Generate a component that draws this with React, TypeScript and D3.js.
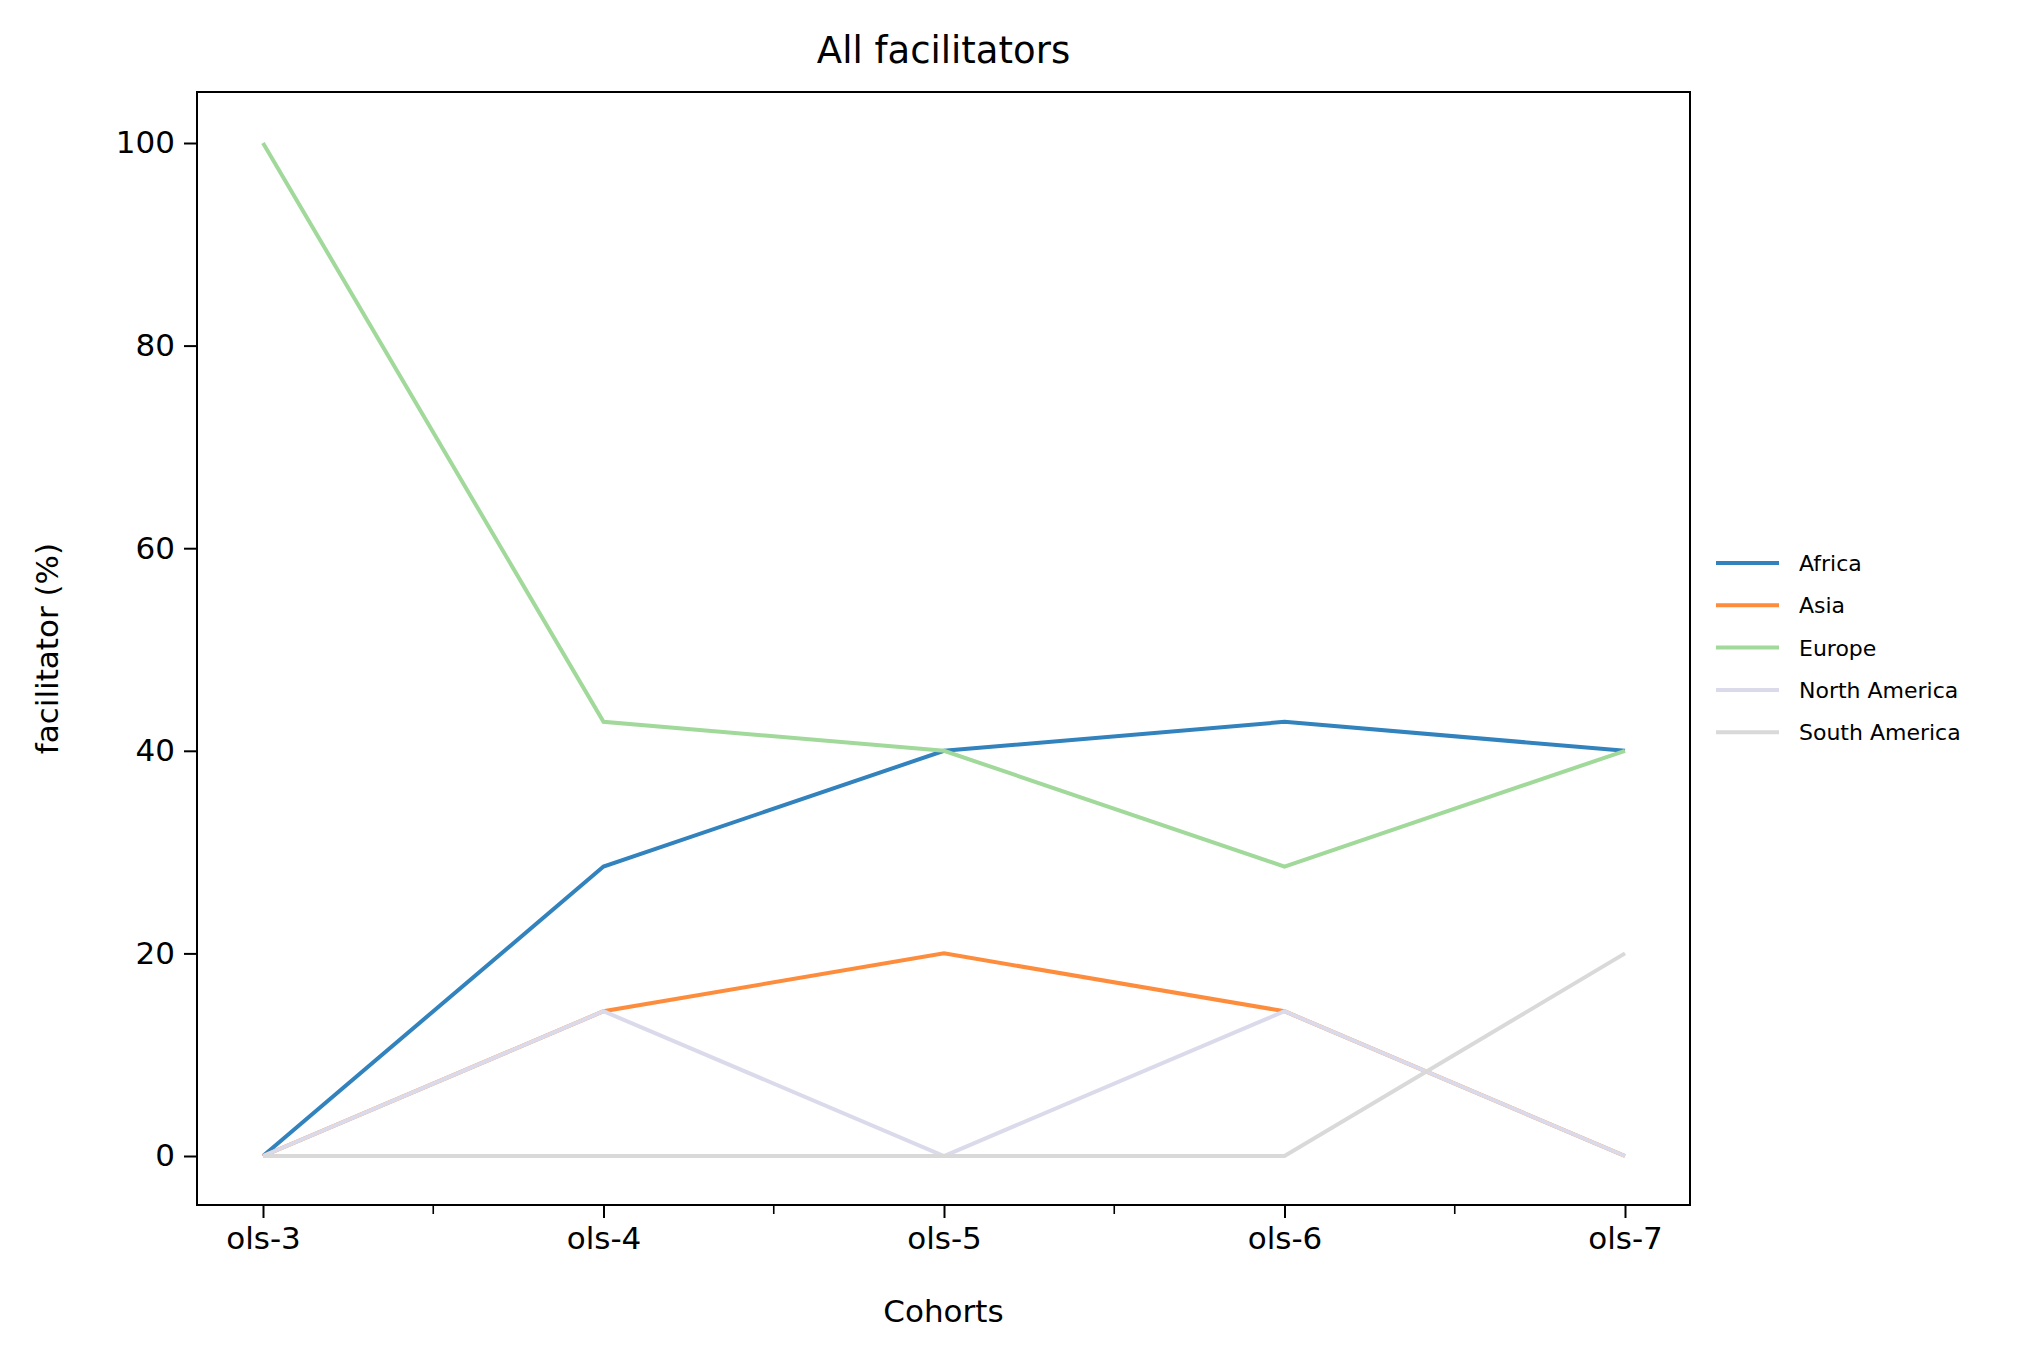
import * as d3 from 'd3';
import { useEffect, useRef } from 'react';

const cohorts = ['ols-3', 'ols-4', 'ols-5', 'ols-6', 'ols-7'];
const regions = ['Africa', 'Asia', 'Europe', 'North America', 'South America'];
const africa = [0, 28.57, 40, 42.86, 40];
const asia = [0, 14.29, 20, 14.29, 0];
const europe = [100, 42.86, 40, 28.57, 40];
const northAmerica = [0, 14.29, 0, 14.29, 0];
const southAmerica = [0, 0, 0, 0, 20];
const yTicks = [0, 20, 40, 60, 80, 100];
const colors = ['#3182bd', '#fd8d3c', '#a1d99b', '#dadaeb', '#d9d9d9'];

export default function App() {
    const svgRef = useRef<SVGSVGElement>(null);

    useEffect(() => {
        const svg = d3.select(svgRef.current);
        svg.selectAll('*').remove();
        const series = [africa, asia, europe, northAmerica, southAmerica];
        const left = 197, right = 1690, top = 92, bottom = 1205;

        const x = d3.scalePoint<string>().domain(cohorts).range([263, 1625]);
        const y = d3.scaleLinear().domain([0, 100]).range([1156, 143]);
        const font = 'DejaVu Sans, sans-serif';

        const line = d3.line<number>()
            .x((_, i) => x(cohorts[i])!)
            .y((d) => y(d));

        series.forEach((s, i) => {
            svg.append('path')
                .datum(s)
                .attr('fill', 'none')
                .attr('stroke', colors[i])
                .attr('stroke-width', 4)
                .attr('d', line);
        });

        svg.append('rect')
            .attr('x', left).attr('y', top)
            .attr('width', right - left).attr('height', bottom - top)
            .attr('fill', 'none').attr('stroke', '#000').attr('stroke-width', 2);

        // x axis
        const xAxis = svg.append('g')
            .attr('transform', `translate(0,${bottom})`)
            .call(d3.axisBottom(x).tickSize(13).tickPadding(9));
        xAxis.select('.domain').remove();
        xAxis.selectAll('line').attr('stroke-width', 2);
        xAxis.selectAll('text').attr('font-size', 31).attr('font-family', font);
        const step = x.step();
        cohorts.slice(0, -1).forEach((c) => {
            svg.append('line')
                .attr('x1', x(c)! + step / 2).attr('x2', x(c)! + step / 2)
                .attr('y1', bottom).attr('y2', bottom + 9)
                .attr('stroke', '#000').attr('stroke-width', 1.6);
        });

        // y axis
        const yAxis = svg.append('g')
            .attr('transform', `translate(${left},0)`)
            .call(d3.axisLeft(y).tickValues(yTicks).tickSize(13).tickPadding(9));
        yAxis.select('.domain').remove();
        yAxis.selectAll('line').attr('stroke-width', 2);
        yAxis.selectAll('text').attr('font-size', 31).attr('font-family', font);

        svg.append('text')
            .attr('x', (left + right) / 2).attr('y', 1322)
            .attr('text-anchor', 'middle').attr('font-size', 31).attr('font-family', font)
            .text('Cohorts');
        svg.append('text')
            .attr('transform', `translate(58,${(top + bottom) / 2}) rotate(-90)`)
            .attr('text-anchor', 'middle').attr('font-size', 31).attr('font-family', font)
            .text('facilitator (%)');
        svg.append('text')
            .attr('x', (left + right) / 2).attr('y', 63)
            .attr('text-anchor', 'middle').attr('font-size', 37).attr('font-family', font)
            .text('All facilitators');

        // legend
        regions.forEach((r, i) => {
            const ly = 563 + i * 42.3;
            svg.append('line')
                .attr('x1', 1716).attr('x2', 1779).attr('y1', ly).attr('y2', ly)
                .attr('stroke', colors[i]).attr('stroke-width', 4);
            svg.append('text')
                .attr('x', 1799).attr('y', ly + 8)
                .attr('font-size', 22).attr('font-family', font)
                .text(r);
        });
    }, []);

    return (
        <svg ref={svgRef} width={2044} height={1357}
            style={{ position: 'absolute', left: 0, top: 0, background: '#fff' }} />
    );
}
